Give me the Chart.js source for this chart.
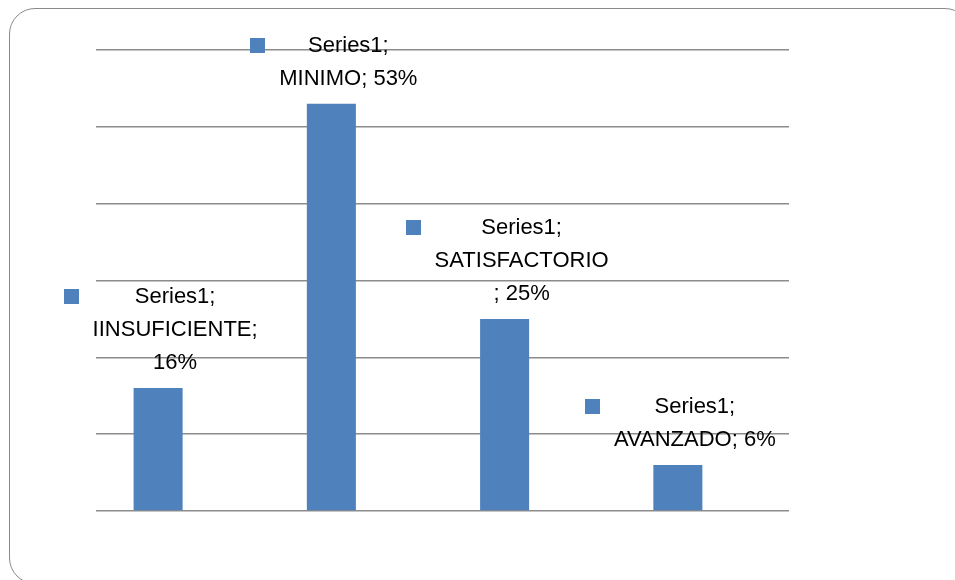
<!DOCTYPE html>
<html>
<head>
<meta charset="utf-8">
<script src="https://cdn.jsdelivr.net/npm/chart.js@4.4.1/dist/chart.umd.min.js"></script>
<style>
  html, body { margin: 0; padding: 0; background: #fff; overflow: hidden; }
  #wrap { position: relative; width: 955px; height: 580px; overflow: hidden; }
  #frame {
    position: absolute; left: 9px; top: 8px; width: 962px; height: 576px;
    border: 1.5px solid #8a8a8a; border-radius: 26px; box-sizing: border-box;
  }
  #myChart { position: absolute; left: 0; top: 0; }
</style>
</head>
<body>
<div id="wrap">
  <div id="frame"></div>
  <canvas id="myChart" width="955" height="580"></canvas>
</div>
<script>
// datos del gráfico
var seriesName = "Series1";
var categories = ["IINSUFICIENTE", "MINIMO", "SATISFACTORIO", "AVANZADO"];
var values = [0.16, 0.53, 0.25, 0.06];
var emptySeries = [null, null, null, null];
// cortes de línea de las etiquetas, como en el original
var labelLines = [
    ["Series1;", "IINSUFICIENTE;", "16%"],
    ["Series1;", "MINIMO; 53%"],
    ["Series1;", "SATISFACTORIO", "; 25%"],
    ["Series1;", "AVANZADO; 6%"]
];

var barColor = "#4F81BD";
var labelFont = "22px 'Liberation Sans', Arial, sans-serif";

// Plugin para dibujar las etiquetas con el cuadrito de leyenda
var dataLabels = {
    id: "dataLabels",
    afterDatasetsDraw: function(chart) {
        var ctx = chart.ctx;
        var meta = chart.getDatasetMeta(0);
        ctx.save();
        ctx.font = labelFont;
        ctx.textAlign = "center";
        ctx.textBaseline = "middle";
        meta.data.forEach(function(bar, i) {
            var lines = labelLines[i];
            var cx = bar.x + 17;
            var lineH = 33;
            var lastY = bar.y - 25;
            var firstY = lastY - (lines.length - 1) * lineH;
            var maxW = 0;
            lines.forEach(function(t) { maxW = Math.max(maxW, ctx.measureText(t).width); });
            ctx.fillStyle = "#000";
            lines.forEach(function(t, k) {
                ctx.fillText(t, cx, firstY + k * lineH);
            });
            // cuadrito
            ctx.fillStyle = barColor;
            ctx.fillRect(Math.round(cx - maxW / 2 - 29), Math.round(firstY - 8), 15, 15);
        });
        ctx.restore();
    }
};

var ctx = document.getElementById("myChart").getContext("2d");
var myChart = new Chart(ctx, {
    type: "bar",
    data: {
        labels: categories,
        datasets: [{
            label: seriesName,
            data: values,
            backgroundColor: barColor,
            borderWidth: 0,
            categoryPercentage: 0.566,
            barPercentage: 1
        }, {
            label: "",
            data: emptySeries,
            backgroundColor: barColor,
            categoryPercentage: 0.566,
            barPercentage: 1
        }]
    },
    options: {
        responsive: false,
        animation: false,
        layout: { padding: { left: 96, right: 166, top: 50, bottom: 69 } },
        plugins: {
            legend: { display: false },
            tooltip: { enabled: false }
        },
        scales: {
            x: {
                display: false
            },
            y: {
                min: 0,
                max: 0.6,
                ticks: { display: false, stepSize: 0.1 },
                border: { display: false },
                grid: { color: "#8c8c8c", lineWidth: 1.5, drawTicks: false },
                afterFit: function(s) { s.width = 0; }
            }
        }
    },
    plugins: [dataLabels]
});
</script>
</body>
</html>
